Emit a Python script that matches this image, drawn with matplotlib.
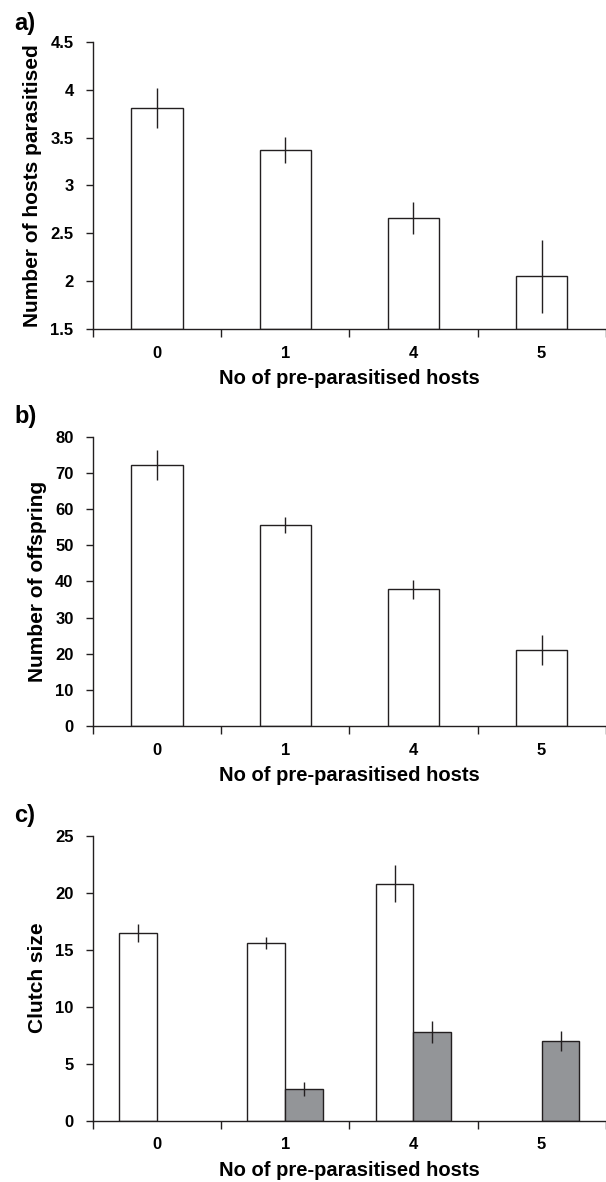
import matplotlib
matplotlib.use('Agg')
import matplotlib.pyplot as plt
import numpy as np

plt.rcParams['font.family'] = ['Liberation Sans', 'DejaVu Sans']
plt.rcParams['font.weight'] = 'bold'

categories = ['0', '1', '4', '5']
xlabel = 'No of pre-parasitised hosts'

# a) hosts parasitised
hosts_mean = [3.81, 3.37, 2.66, 2.05]
hosts_err = [0.21, 0.14, 0.17, 0.38]

# b) offspring
offspring_mean = [72.2, 55.6, 37.8, 21.0]
offspring_err = [4.2, 2.3, 2.7, 4.2]

# c) clutch size, white = first series, grey = second series (None = no bar)
clutch_white = [16.45, 15.6, 20.8, None]
clutch_white_err = [0.8, 0.5, 1.65, None]
clutch_grey = [None, 2.8, 7.75, 7.0]
clutch_grey_err = [None, 0.63, 0.95, 0.9]

EDGE = '#231f20'
GREY = '#939598'


def style_axis(ax, ylim, yticks, yticklabels, ylabel):
    n = len(categories)
    ax.set_xlim(0, n)
    ax.set_ylim(*ylim)
    ax.spines['top'].set_visible(False)
    ax.spines['right'].set_visible(False)
    for s in ('left', 'bottom'):
        ax.spines[s].set_color(EDGE)
        ax.spines[s].set_linewidth(1.0)
    # ticks at category boundaries, labels at centres
    ax.set_xticks(np.arange(n + 1))
    ax.set_xticklabels([])
    ax.set_xticks(np.arange(n) + 0.5, minor=True)
    ax.set_xticklabels(categories, minor=True, fontsize=12, fontweight='bold')
    ax.tick_params(axis='x', which='major', direction='out', length=6,
                   width=1.0, color=EDGE)
    ax.tick_params(axis='x', which='minor', length=0, pad=12)
    ax.set_yticks(yticks)
    ax.set_yticklabels(yticklabels, fontsize=12, fontweight='bold')
    ax.tick_params(axis='y', direction='out', length=5, width=1.0,
                   color=EDGE, pad=9)
    ax.set_xlabel(xlabel, fontsize=14.5, fontweight='bold', labelpad=6)
    ax.set_ylabel(ylabel, fontsize=15, fontweight='bold', labelpad=6)


def single_bars(ax, means, errs, bottom):
    x = np.arange(len(categories)) + 0.5
    heights = [m - bottom for m in means]
    ax.bar(x, heights, width=0.4, bottom=bottom, color='white',
           edgecolor=EDGE, linewidth=1.0, zorder=2)
    ax.errorbar(x, means, yerr=errs, fmt='none', ecolor=EDGE,
                elinewidth=1.0, capsize=0, zorder=3)


fig = plt.figure(figsize=(6.06, 11.82), dpi=100)

ax_a = fig.add_axes([0.1535, 0.7217, 0.846, 0.2428])
single_bars(ax_a, hosts_mean, hosts_err, 1.5)
style_axis(ax_a, (1.5, 4.5), [1.5, 2, 2.5, 3, 3.5, 4, 4.5],
           ['1.5', '2', '2.5', '3', '3.5', '4', '4.5'],
           'Number of hosts parasitised')

ax_b = fig.add_axes([0.1535, 0.3858, 0.846, 0.2447])
single_bars(ax_b, offspring_mean, offspring_err, 0)
style_axis(ax_b, (0, 80), np.arange(0, 81, 10),
           [str(v) for v in range(0, 81, 10)], 'Number of offspring')

ax_c = fig.add_axes([0.1535, 0.0519, 0.846, 0.2411])
xc = np.arange(len(categories)) + 0.5
w = 0.295
for i in range(len(categories)):
    if clutch_white[i] is not None:
        ax_c.bar(xc[i] - w / 2, clutch_white[i], width=w, color='white',
                 edgecolor=EDGE, linewidth=1.0, zorder=2)
        ax_c.errorbar(xc[i] - w / 2, clutch_white[i], yerr=clutch_white_err[i],
                      fmt='none', ecolor=EDGE, elinewidth=1.0, capsize=0, zorder=3)
    if clutch_grey[i] is not None:
        ax_c.bar(xc[i] + w / 2, clutch_grey[i], width=w, color=GREY,
                 edgecolor=EDGE, linewidth=1.0, zorder=2)
        ax_c.errorbar(xc[i] + w / 2, clutch_grey[i], yerr=clutch_grey_err[i],
                      fmt='none', ecolor=EDGE, elinewidth=1.0, capsize=0, zorder=3)
style_axis(ax_c, (0, 25), [0, 5, 10, 15, 20, 25],
           ['0', '5', '10', '15', '20', '25'], 'Clutch size')

for label, y in (('a)', 0.990), ('b)', 0.657), ('c)', 0.320)):
    fig.text(0.024, y, label, fontsize=17, fontweight='bold', va='top')

fig.savefig('out.png', dpi=100)
